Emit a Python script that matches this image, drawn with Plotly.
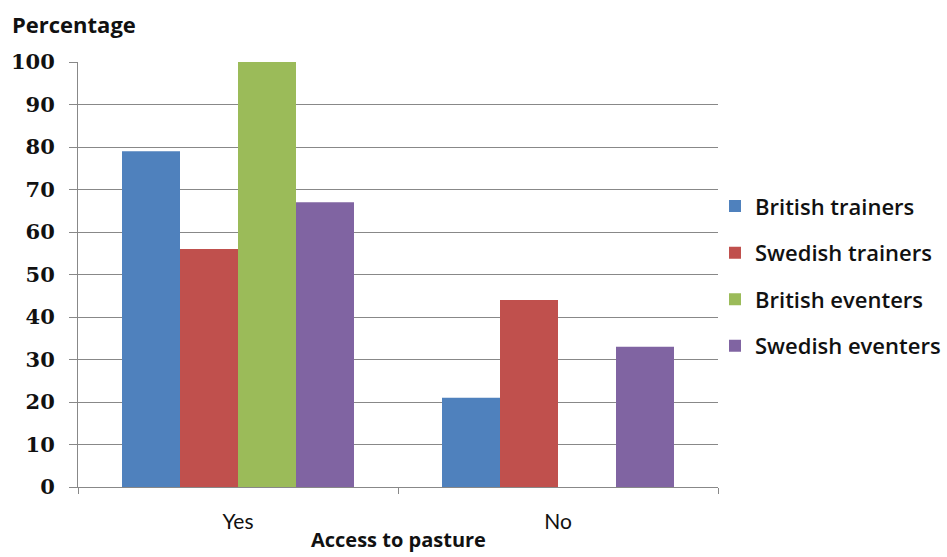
import plotly.graph_objects as go

categories = ["Yes", "No"]
series_names = ["British trainers", "Swedish trainers", "British eventers", "Swedish eventers"]
british_trainers = [79, 21]
swedish_trainers = [56, 44]
british_eventers = [100, 0]
swedish_eventers = [67, 33]
colors = ["#4F81BD", "#C0504D", "#9BBB59", "#8064A2"]
y_ticks = [0, 10, 20, 30, 40, 50, 60, 70, 80, 90, 100]

series_values = [british_trainers, swedish_trainers, british_eventers, swedish_eventers]

fig = go.Figure()
for i, (name, vals) in enumerate(zip(series_names, series_values)):
    fig.add_trace(go.Bar(
        x=categories, y=vals, name=name,
        marker=dict(color=colors[i], line=dict(width=0)),
        legendgroup=f"g{i}",
    ))

fig.update_layout(
    width=947, height=557,
    margin=dict(l=78, r=229, t=62, b=70, autoexpand=False),
    paper_bgcolor="white", plot_bgcolor="white",
    barmode="group", bargap=0.275, bargroupgap=0,
    showlegend=True,
    legend=dict(
        x=1 - 3 / 640, y=0.71, xanchor="left", yanchor="top",
        font=dict(family="Open Sans, sans-serif", size=22, color="#111", weight=600),
        tracegroupgap=15, itemwidth=30,
        bgcolor="rgba(0,0,0,0)",
    ),
    xaxis=dict(
        automargin=False,
        showline=True, linecolor="#888", linewidth=1,
        ticks="outside", tickson="boundaries", ticklen=6, tickcolor="#888",
        ticklabelstandoff=16,
        tickfont=dict(family="Lato, Open Sans, sans-serif", size=21, color="#111"),
        showgrid=False,
    ),
    yaxis=dict(
        automargin=False,
        range=[0, 100], tickvals=y_ticks,
        showline=True, linecolor="#888", linewidth=1,
        ticks="outside", ticklen=8, tickcolor="#888",
        ticklabelstandoff=10,
        showgrid=True, gridcolor="#888", gridwidth=1,
        zeroline=False,
        tickfont=dict(family="DejaVu Serif, serif", size=21, color="#111", weight="bold"),
    ),
    annotations=[
        dict(
            text="<b>Percentage</b>", xref="paper", yref="paper",
            x=(10 - 78) / 640, y=1.0, xanchor="left", yanchor="bottom", yshift=21,
            showarrow=False,
            font=dict(family="Open Sans, sans-serif", size=22, color="#111"),
        ),
        dict(
            text="<b>Access to pasture</b>", xref="paper", yref="paper",
            x=0.5, y=0.0, xanchor="center", yanchor="bottom", yshift=-68,
            showarrow=False,
            font=dict(family="Open Sans, sans-serif", size=20, color="#111"),
        ),
    ],
)

fig.write_html("out.html")
